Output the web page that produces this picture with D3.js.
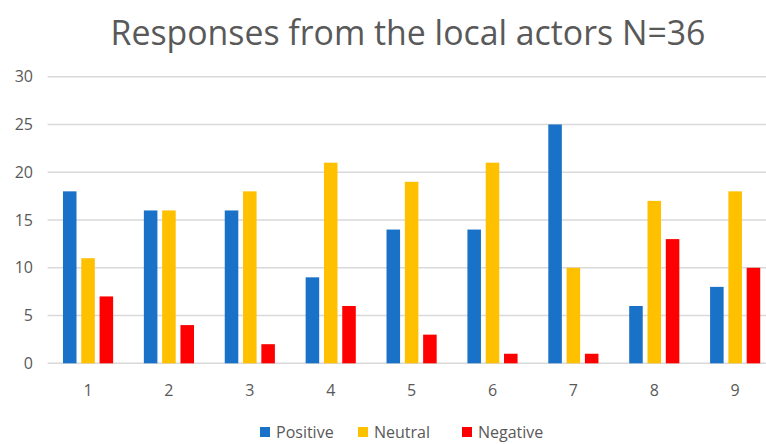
<!DOCTYPE html>
<html><head><meta charset="utf-8">
<script src="https://cdn.jsdelivr.net/npm/d3@7"></script>
<style>body{margin:0;background:#fff}svg{display:block}</style>
</head><body>
<svg id="c" width="766" height="444"></svg>
<script>
const categories = ["1","2","3","4","5","6","7","8","9"];
const seriesNames = ["Positive","Neutral","Negative"];
const positive = [18,16,16,9,14,14,25,6,8];
const neutral  = [11,16,18,21,19,21,10,17,18];
const negative = [7,4,2,6,3,1,1,13,10];
const yTicks = [0,5,10,15,20,25,30];
const colors = ["#1a72c8","#ffc000","#ff0000"];
const title = "Responses from the local actors N=36";

const series = [positive, neutral, negative];
const svg = d3.select("#c");
const font = "'Open Sans', 'Liberation Sans', sans-serif";
const textColor = "#595959";

const x0 = d3.scaleBand().domain(categories).range([47.6, 775.6]).paddingInner(0.38).paddingOuter(0.19);
const x1 = d3.scaleBand().domain(seriesNames).range([0, x0.bandwidth()]).paddingInner(0.26);
const y = d3.scaleLinear().domain([0,30]).range([363.3, 76.7]);

// grid
svg.append("g").selectAll("line").data(yTicks).join("line")
  .attr("x1", 47.6).attr("x2", 776)
  .attr("y1", d=>y(d)).attr("y2", d=>y(d))
  .attr("stroke", "#d9d9d9").attr("stroke-width", 1.5);

// y labels
svg.append("g").selectAll("text").data(yTicks).join("text")
  .attr("x", 33).attr("y", d=>y(d)).attr("dy","0.35em")
  .attr("text-anchor","end").attr("font-family",font).attr("font-size",16)
  .attr("fill",textColor).text(d=>d);

// bars
const g = svg.append("g");
series.forEach((vals, si) => {
  g.append("g").selectAll("rect").data(vals).join("rect")
    .attr("x", (d,i)=>x0(categories[i]) + x1(seriesNames[si]))
    .attr("width", x1.bandwidth())
    .attr("y", d=>y(d)).attr("height", d=>y(0)-y(d))
    .attr("fill", colors[si]);
});

// x labels
svg.append("g").selectAll("text").data(categories).join("text")
  .attr("x", d=>x0(d)+x0.bandwidth()/2).attr("y", 396)
  .attr("text-anchor","middle").attr("font-family",font).attr("font-size",16)
  .attr("fill",textColor).text(d=>d);

// title
const t = svg.append("text").attr("x", 408).attr("y", 45).attr("text-anchor","middle")
  .attr("font-family",font).attr("font-size",36).attr("fill",textColor).text(title);
const tw = t.node().getComputedTextLength();
t.attr("font-size", 36*595/tw);

// legend
const legendX = [260, 358, 462];
const lg = svg.append("g");
seriesNames.forEach((n,i)=>{
  lg.append("rect").attr("x", legendX[i]).attr("y", 427).attr("width",10).attr("height",10).attr("fill",colors[i]);
  lg.append("text").attr("x", legendX[i]+16).attr("y", 438).attr("font-family",font).attr("font-size",16)
    .attr("fill",textColor).text(n);
});
</script>
</body></html>
